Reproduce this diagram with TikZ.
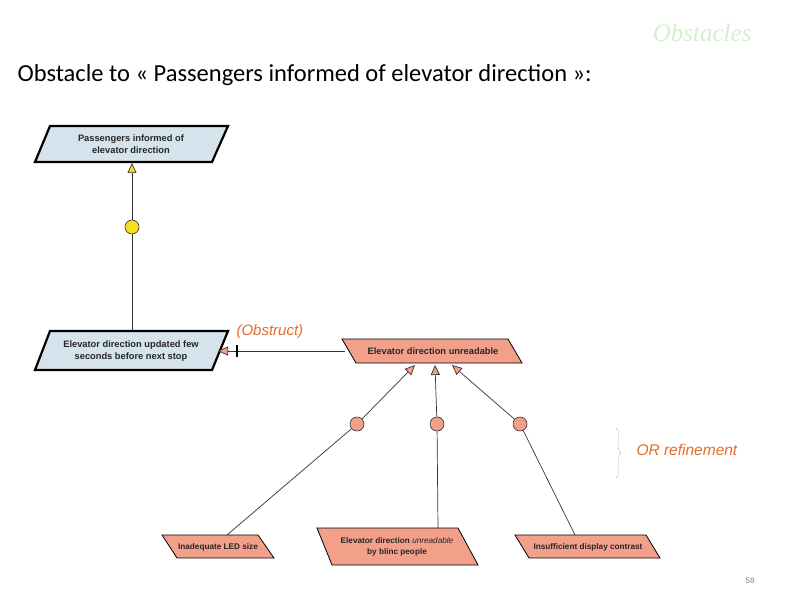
\documentclass[tikz,border=0pt]{standalone}
\usepackage{fontspec}
\setmainfont{Liberation Sans}
\newfontfamily\calib{Carlito}
\newfontfamily\tms{Liberation Serif}
\usetikzlibrary{arrows.meta,decorations.pathreplacing}
\definecolor{gblue}{HTML}{D5E3EC}
\definecolor{obs}{HTML}{F2A08A}
\definecolor{org}{HTML}{E46C2A}
\definecolor{ylw}{HTML}{F5DF1E}
\definecolor{grn}{HTML}{D4EED0}
\begin{document}
\begin{tikzpicture}[x=1pt,y=-1pt,
  goal/.style={fill=gblue,draw=black,line width=2.2pt},
  obst/.style={fill=obs,draw=black,line width=0.8pt},
  lbl/.style={font=\fontsize{9.3}{11.5}\selectfont\bfseries,align=center,text=black!85},
  slbl/.style={font=\fontsize{8.2}{11.5}\selectfont\bfseries,align=center,text=black!85},
  ref/.style={circle,draw=black!80,line width=0.6pt,minimum size=14pt,inner sep=0},
  ln/.style={black!80,line width=0.7pt},
  tip/.style={-{Triangle[open,fill=#1,length=10pt,width=9pt]}}]
\useasboundingbox (0,0) rectangle (792,612);
% title
\node[anchor=east,font=\tms\itshape\fontsize{25}{28}\selectfont,text=grn] (ttl) at (755,33) {Obstacles};
\node[anchor=west,font=\calib\fontsize{24.5}{28}\selectfont] (head) at (14,75) {Obstacle to « Passengers informed of elevator direction »:};
% goals
\draw[goal] (50,126)--(228,126)--(212,162)--(35,162)--cycle;
\node[lbl] (g1) at (131,144) {Passengers informed of\\elevator direction};
\coordinate (g1b) at (132,163);
\draw[goal] (50,331)--(228,331)--(212,370)--(35,370)--cycle;
\node[lbl] (g2) at (131,351) {Elevator direction updated few\\seconds before next stop};
\coordinate (g2t) at (132,330);
\coordinate (g2r) at (218,351);
% obstacles
\draw[obst] (342,339)--(508,339)--(522,363)--(356,363)--cycle;
\node[lbl] (o) at (433,351) {Elevator direction unreadable};
\coordinate (ol) at (345,351);
\coordinate (ob1) at (415,365);\coordinate (ob2) at (435,365);\coordinate (ob3) at (452,365);
\draw[obst] (162,535)--(258,535)--(274,558)--(177,558)--cycle;
\node[slbl] (s1) at (218,547) {Inadequate LED size};
\coordinate (s1t) at (227,535);
\draw[obst] (317,528)--(458,528)--(478,565)--(332,565)--cycle;
\node[slbl] (s2) at (397,547) {Elevator direction \textmd{\itshape unreadable}\\by blinc people};
\coordinate (s2t) at (438,528);
\draw[obst] (515,535)--(646,535)--(660,558)--(529,558)--cycle;
\node[slbl] (s3) at (588,547) {Insufficient display contrast};
\coordinate (s3t) at (575,535);
% refinement nodes
\node[ref,fill=ylw] (r0) at (132,227) {};
\node[ref,fill=obs] (r1) at (357,424) {};
\node[ref,fill=obs] (r2) at (437,424) {};
\node[ref,fill=obs] (r3) at (520,424) {};
\draw[ln] (g2t)--(r0);
\draw[ln,tip=ylw] (r0)--(g1b);
\draw[ln] (s1t)--(r1); \draw[ln,tip=obs] (r1)--(ob1);
\draw[ln] (s2t)--(r2); \draw[ln,tip=obs] (r2)--(ob2);
\draw[ln] (s3t)--(r3); \draw[ln,tip=obs] (r3)--(ob3);
% obstruct
\draw[ln,tip=obs] (ol)--(g2r);
\draw[line width=2pt] (237,345)--(237,357);
\node[anchor=west,font=\itshape\fontsize{15}{17}\selectfont,text=org] (obl) at (233,332) {(Obstruct)};
% OR refinement
\draw[black!25,decorate,decoration={brace,amplitude=5pt}] (616,428)--(616,478);
\node[anchor=west,font=\itshape\fontsize{15.5}{17}\selectfont,text=org] (orl) at (633,450) {OR refinement};
\node[font=\fontsize{8}{9}\selectfont,text=black!50] (pg) at (750,581) {58};
\end{tikzpicture}
\end{document}
